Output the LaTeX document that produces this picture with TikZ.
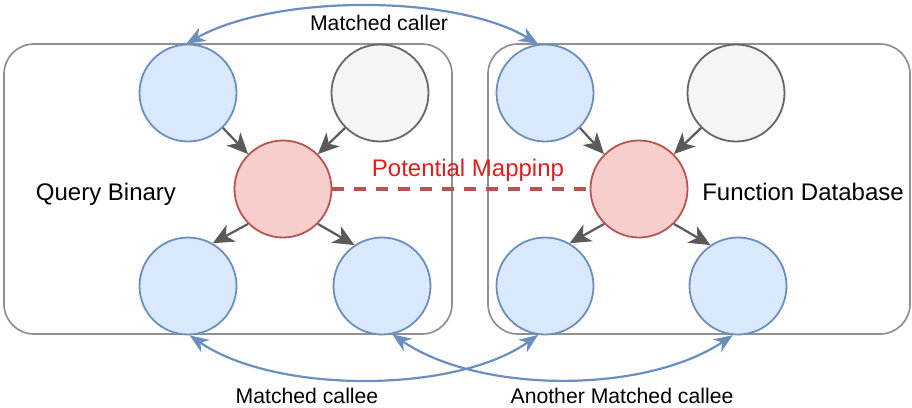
\documentclass[tikz,border=0pt]{standalone}
\usepackage{fontspec}
\setmainfont{Liberation Sans}
\usetikzlibrary{arrows.meta}
\definecolor{bfill}{HTML}{DAE8FC}
\definecolor{bline}{HTML}{6C8EBF}
\definecolor{rfill}{HTML}{F8CECC}
\definecolor{rline}{HTML}{B85450}
\definecolor{gfill}{HTML}{F5F5F5}
\definecolor{gline}{HTML}{666666}
\definecolor{boxline}{HTML}{909090}
\definecolor{arrgray}{HTML}{5A5A5A}
\definecolor{mapred}{HTML}{E01E1E}
\tikzset{
  fn/.style={circle, minimum size=97pt, inner sep=0pt, line width=1.8pt},
  bluefn/.style={fn, fill=bfill, draw=bline},
  redfn/.style={fn, fill=rfill, draw=rline},
  grayfn/.style={fn, fill=gfill, draw=gline},
  container/.style={draw=boxline, line width=1.7pt, rounded corners=30pt, inner sep=0pt},
  callarrow/.style={draw=arrgray, line width=2.2pt, -{Stealth[length=21pt,width=19pt,inset=6pt]}},
  match/.style={draw=bline, line width=2.2pt, {Stealth[length=19pt,width=15pt,inset=6pt]}-{Stealth[length=19pt,width=15pt,inset=6pt]}},
  biglabel/.style={font=\fontsize{24}{28}\selectfont, anchor=base, inner sep=0pt},
  edgelabel/.style={font=\fontsize{21.2}{25}\selectfont, anchor=base, inner sep=0pt},
}
\begin{document}
\begin{tikzpicture}[x=1pt, y=-1pt]
\useasboundingbox (0,0) rectangle (912,407);
% containers
\node[container, minimum width=448pt, minimum height=290pt] (boxL) at (228,189) {};
\node[container, minimum width=422pt, minimum height=290pt] (boxR) at (699,189) {};
% left graph
\node[bluefn] (l1) at (188,93) {};
\node[grayfn] (l2) at (380,93) {};
\node[redfn]  (lr) at (283,189) {};
\node[bluefn] (l3) at (188,286) {};
\node[bluefn] (l4) at (382,286) {};
% right graph
\node[bluefn] (r1) at (545,93) {};
\node[grayfn] (r2) at (736,93) {};
\node[redfn]  (rr) at (639,189) {};
\node[bluefn] (r3) at (545,286) {};
\node[bluefn] (r4) at (738,286) {};
% call edges
\draw[callarrow] (l1.-45) -- (lr.135);
\draw[callarrow] (l2.-135) -- (lr.45);
\draw[callarrow] (lr.225) -- (l3.60);
\draw[callarrow] (lr.-45) -- (l4.124);
\draw[callarrow] (r1.-45) -- (rr.135);
\draw[callarrow] (r2.-135) -- (rr.45);
\draw[callarrow] (rr.225) -- (r3.60);
\draw[callarrow] (rr.-45) -- (r4.124);
% potential mapping
\draw[draw=rline, line width=4pt, dash pattern=on 12pt off 10pt] (lr.east) -- (rr.west);
\node[biglabel, text=mapred] (pm) at (468,176) {Potential Mappinp};
% matched arrows
\draw[match] (l1.92) .. controls (275,-6) and (455,-6) .. (r1.98);
\draw[match] (l3.-88) .. controls (275,394) and (455,394) .. (r3.-98);
\draw[match] (l4.-78) .. controls (480,394) and (645,394) .. (r4.-96);
% labels
\node[biglabel] (qb) at (106,200) {Query Binary};
\node[biglabel] (fd) at (803,200) {Function Database};
\node[edgelabel] (mc) at (379,30) {Matched caller};
\node[edgelabel] (me) at (307,403) {Matched callee};
\node[edgelabel] (am) at (622,403) {Another Matched callee};
\end{tikzpicture}
\end{document}
